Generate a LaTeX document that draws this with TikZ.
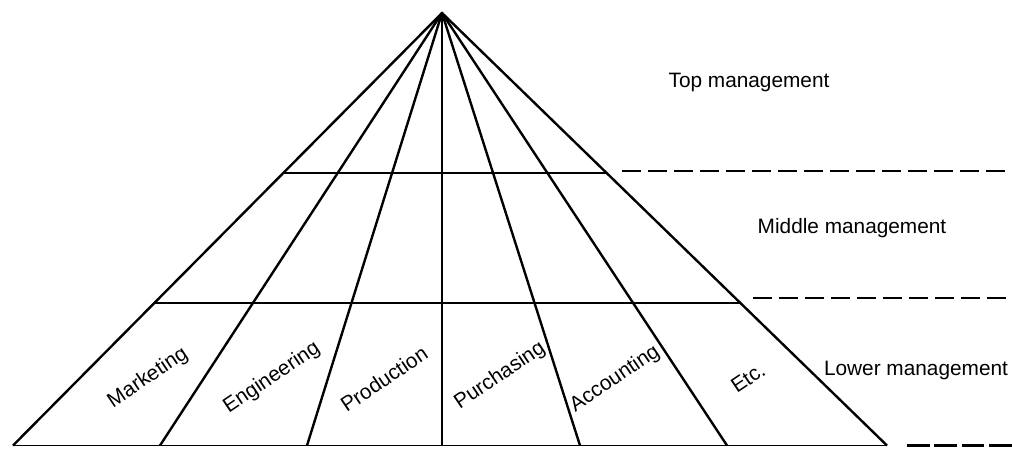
\documentclass[tikz,border=0pt]{standalone}
\usepackage{fontspec}
\setmainfont{Liberation Sans}
\usetikzlibrary{calc}

\begin{document}
\begin{tikzpicture}[x=0.025cm,y=-0.025cm,line cap=butt]
\tikzset{ray/.style={line width=1.7pt},
  level/.style={line width=1.4pt},
  sep/.style={line width=1.4pt,dash pattern=on 13.5pt off 5pt},
  lbl/.style={font=\fontsize{14.8}{17}\selectfont,inner sep=0pt},
  dept/.style={lbl,rotate=34}}
\useasboundingbox (0,0) rectangle (1012,448);
% apex and feet of the pyramid
\coordinate (apex) at (442,13);
\coordinate (b0) at (13,445.5);
\coordinate (b1) at (160,445.5);
\coordinate (b2) at (307,445.5);
\coordinate (b3) at (442,445.5);
\coordinate (b4) at (580,445.5);
\coordinate (b5) at (727,445.5);
\coordinate (b6) at (887,445.5);
\draw[ray] (b0) -- (apex) -- (b6);
\draw[ray] (apex) -- (b1);
\draw[ray] (apex) -- (b2);
\draw[ray] (apex) -- (b3);
\draw[ray] (apex) -- (b4);
\draw[ray] (apex) -- (b5);
% levels
\coordinate (t1l) at ($(apex)!0.3695!(b0)$);
\coordinate (t1r) at ($(apex)!0.3695!(b6)$);
\coordinate (t2l) at ($(apex)!0.67!(b0)$);
\coordinate (t2r) at ($(apex)!0.67!(b6)$);
\draw[level] (t1l) -- (t1r);
\draw[level] (t2l) -- (t2r);
\draw[level] (b0) -- (b6);
% dashed separators
\coordinate (s1a) at (622,171);
\coordinate (s1b) at (1012,171);
\coordinate (s2a) at (753,298);
\coordinate (s2b) at (1012,298);
\coordinate (s3a) at (907,445.5);
\coordinate (s3b) at (1012,445.5);
\draw[sep] (s1a) -- (s1b);
\draw[sep] (s2a) -- (s2b);
\draw[sep,line width=1.8pt,dash pattern=on 16pt off 3.5pt] (s3a) -- (s3b);
% level names
\node[lbl] (top) at (749,82) {Top management};
\node[lbl] (middle) at (852,228) {Middle management};
\node[lbl] (lower) at (916,370) {Lower management};
% departments
\node[dept] (mkt) at (148,378) {Marketing};
\node[dept] (eng) at (272,378) {Engineering};
\node[dept] (prod) at (384,379) {Production};
\node[dept] (purch) at (500,376) {Purchasing};
\node[dept] (acct) at (615,379) {Accounting};
\node[dept] (etc) at (748,378) {Etc.};
\end{tikzpicture}
\end{document}
